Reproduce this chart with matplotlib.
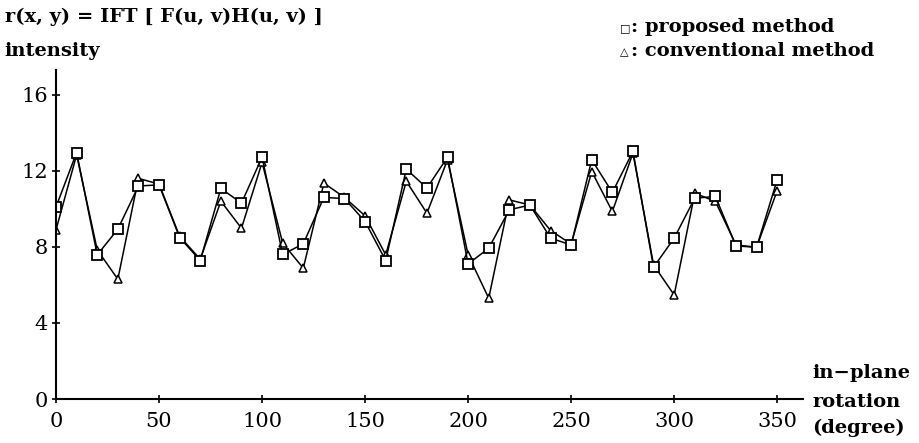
import matplotlib
matplotlib.use("Agg")
from matplotlib import pyplot as plt

# in-plane rotation angles (degree)
angles = list(range(0, 360, 10))

proposed = [10.1, 12.96, 7.58, 8.93, 11.2, 11.26, 8.49, 7.28, 11.07, 10.3,
            12.72, 7.6, 8.16, 10.6, 10.54, 9.33, 7.28, 12.09, 11.09, 12.72,
            7.1, 7.93, 9.95, 10.2, 8.46, 8.1, 12.58, 10.86, 13.02, 6.93,
            8.46, 10.56, 10.65, 8.05, 7.98, 11.53]

conventional = [8.9, 12.84, 7.84, 6.3, 11.6, 11.3, 8.55, 7.35, 10.4, 8.98,
                12.44, 8.2, 6.88, 11.35, 10.6, 9.63, 7.58, 11.45, 9.77, 12.58,
                7.58, 5.3, 10.47, 10.2, 8.86, 8.15, 11.96, 9.86, 12.93, 7.05,
                5.47, 10.82, 10.39, 8.1, 7.98, 10.96]

x_ticks = [0, 50, 100, 150, 200, 250, 300, 350]
y_ticks = [0, 4, 8, 12, 16]

plt.rcParams['font.family'] = ['DejaVu Serif', 'DejaVu Sans']

fig = plt.figure(figsize=(9.2, 4.43), dpi=100)
ax = fig.add_axes([0.0609, 0.0993, 0.8121, 0.7427])

ax.plot(angles, conventional, color='black', lw=1.1, marker='^', ms=6,
        mfc='white', mec='black', mew=1.1)
ax.plot(angles, proposed, color='black', lw=1.1, marker='s', ms=7,
        mfc='white', mec='black', mew=1.3)

ax.set_xlim(0, 362.6)
ax.set_ylim(0, 17.3)
ax.set_xticks(x_ticks)
ax.set_yticks(y_ticks)
for side in ['top', 'right']:
    ax.spines[side].set_visible(False)
for side in ['left', 'bottom']:
    ax.spines[side].set_linewidth(1.5)
ax.tick_params(direction='inout', length=6, width=1.2, labelsize=15, pad=3)
ax.tick_params(axis='x', pad=6)

bold = dict(fontsize=14, fontweight='bold', va='center', ha='left')
fig.text(0.005, 0.963, 'r(x, y) = IFT [ F(u, v)H(u, v) ]', **bold)
fig.text(0.005, 0.885, 'intensity', **bold)

# legend: small symbol + label
fig.text(0.674, 0.937, '\u25a1', fontsize=8, va='center', ha='left')
fig.text(0.686, 0.939, ': proposed method', **bold)
fig.text(0.674, 0.882, '\u25b3', fontsize=8, va='center', ha='left')
fig.text(0.686, 0.884, ': conventional method', **bold)

fig.text(0.883, 0.157, 'in\u2212plane', **bold)
fig.text(0.883, 0.092, 'rotation', **bold)
fig.text(0.883, 0.034, '(degree)', **bold)

fig.savefig('out.png', dpi=100)
